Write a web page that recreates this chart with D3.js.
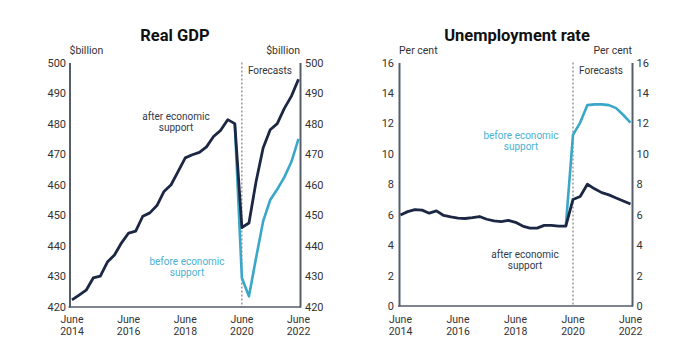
<!DOCTYPE html>
<html><head><meta charset="utf-8">
<script src="https://cdn.jsdelivr.net/npm/d3@7"></script>
<style>
body{margin:0;background:#fff}
text{font-family:Roboto,"Liberation Sans",Arial,sans-serif}
</style>
</head><body>
<svg id="c" width="692" height="356"></svg>
<script>
// ---- data ----
const quarters = [
  "Jun-2014","Sep-2014","Dec-2014","Mar-2015","Jun-2015","Sep-2015","Dec-2015","Mar-2016",
  "Jun-2016","Sep-2016","Dec-2016","Mar-2017","Jun-2017","Sep-2017","Dec-2017","Mar-2018",
  "Jun-2018","Sep-2018","Dec-2018","Mar-2019","Jun-2019","Sep-2019","Dec-2019","Mar-2020",
  "Jun-2020","Sep-2020","Dec-2020","Mar-2021","Jun-2021","Sep-2021","Dec-2021","Mar-2022","Jun-2022"
];
const xTickQuarters = ["Jun-2014","Jun-2016","Jun-2018","Jun-2020","Jun-2022"];
const xTickLabels = [["June","2014"],["June","2016"],["June","2018"],["June","2020"],["June","2022"]];
const forecastStart = "Jun-2020";

const gdpAfter = [422.3,423.9,425.5,429.5,430.1,434.7,437.0,441.0,444.2,444.8,449.7,450.8,453.2,457.8,460.0,464.4,
  468.8,469.8,470.6,472.4,475.8,477.8,481.3,480.0,446.0,447.5,461.0,472.0,478.0,480.0,485.0,489.0,494.5];
const gdpBefore = [null,null,null,null,null,null,null,null,null,null,null,null,null,null,null,null,
  null,null,null,null,null,null,null,480.0,429.5,423.5,436.0,448.0,455.0,458.5,462.5,467.5,475.0];
const gdpTicks = [420,430,440,450,460,470,480,490,500];

const unempAfter = [5.98,6.2,6.33,6.3,6.1,6.25,5.95,5.85,5.78,5.75,5.8,5.88,5.7,5.6,5.55,5.62,
  5.5,5.25,5.12,5.12,5.3,5.3,5.25,5.25,7.0,7.2,8.0,7.7,7.45,7.3,7.1,6.9,6.7];
const unempBefore = [null,null,null,null,null,null,null,null,null,null,null,null,null,null,null,null,
  null,null,null,null,null,null,null,5.25,11.25,12.05,13.2,13.25,13.25,13.2,13.0,12.55,12.05];
const unempTicks = [0,2,4,6,8,10,12,14,16];

// ---- style ----
const DARK = "#1b2743", LIGHT = "#3aa7c9", AXIS = "#555d6b", TXT = "#333";
const svg = d3.select("#c");

function panel(cfg) {
  const g = svg.append("g");
  const x = d3.scalePoint(quarters, cfg.xRange).padding(0);
  const y = d3.scaleLinear(cfg.yDomain, cfg.yRange);

  // title
  g.append("text").attr("x", cfg.titleX).attr("y", 41).attr("text-anchor","middle")
    .attr("font-size", 16.5).attr("font-weight", 700).attr("fill", "#111").text(cfg.title);
  // units
  g.append("text").attr("x", cfg.axL).attr("y", 54).attr("font-size", 10.5).attr("fill", TXT).text(cfg.unit);
  g.append("text").attr("x", cfg.axR).attr("y", 54).attr("text-anchor","end").attr("font-size", 10.5).attr("fill", TXT).text(cfg.unit);

  // y axes
  const left = d3.axisLeft(y).tickValues(cfg.ticks).tickSize(0).tickPadding(cfg.padL).tickSizeOuter(0);
  const right = d3.axisRight(y).tickValues(cfg.ticks).tickSize(0).tickPadding(cfg.padR).tickSizeOuter(0);
  [[left, cfg.axL], [right, cfg.axR]].forEach(([ax, px]) => {
    const a = g.append("g").attr("transform", `translate(${px},0)`).call(ax);
    a.select(".domain").attr("stroke", AXIS).attr("stroke-width", 2);
    a.selectAll("text").attr("font-size", 11).attr("fill", TXT).style("font-family", 'Roboto,"Liberation Sans",Arial,sans-serif');
  });

  // bottom axis line
  g.append("line").attr("x1", cfg.axL - 1).attr("x2", cfg.axR + 1)
    .attr("y1", cfg.yRange[0]).attr("y2", cfg.yRange[0]).attr("stroke", AXIS).attr("stroke-width", 1.5);

  // x tick labels
  xTickQuarters.forEach((q, i) => {
    g.append("text").attr("text-anchor","middle").attr("font-size", 10.5).attr("fill", TXT)
      .attr("x", x(q)).attr("y", 322.5).text(xTickLabels[i][0]);
    g.append("text").attr("text-anchor","middle").attr("font-size", 10.5).attr("fill", TXT)
      .attr("x", x(q)).attr("y", 334.5).text(xTickLabels[i][1]);
  });

  // forecast divider
  g.append("line").attr("x1", x(forecastStart)).attr("x2", x(forecastStart))
    .attr("y1", cfg.yRange[1]).attr("y2", cfg.yRange[0])
    .attr("stroke", "#666").attr("stroke-width", 1).attr("stroke-dasharray", "2,2");
  g.append("text").attr("x", x(forecastStart) + 6).attr("y", 74).attr("font-size", 10).attr("fill", TXT).text("Forecasts");

  // lines
  const line = d3.line().defined(d => d[1] != null).x(d => x(d[0])).y(d => y(d[1]));
  const zip = arr => quarters.map((q, i) => [q, arr[i]]);
  g.append("path").attr("d", line(zip(cfg.before))).attr("fill","none").attr("stroke", LIGHT)
    .attr("stroke-width", 2.6).attr("stroke-linejoin","round");
  g.append("path").attr("d", line(zip(cfg.after))).attr("fill","none").attr("stroke", DARK)
    .attr("stroke-width", 2.8).attr("stroke-linejoin","round");

  // annotations
  cfg.notes.forEach(n => {
    g.append("text").attr("text-anchor","middle").attr("font-size", 10).attr("fill", n.color)
      .attr("x", n.x).attr("y", n.y).text(n.word + " economic");
    g.append("text").attr("text-anchor","middle").attr("font-size", 10).attr("fill", n.color)
      .attr("x", n.x).attr("y", n.y + 11).text("support");
  });
}

panel({
  title: "Real GDP", titleX: 175, unit: "$billion",
  xRange: [72, 298.5], axL: 69.5, axR: 300, padL: 3.5, padR: 5,
  yDomain: [420, 500], yRange: [307, 62.5], ticks: gdpTicks,
  after: gdpAfter, before: gdpBefore,
  notes: [
    {word: "after", x: 176, y: 120, color: "#2e3a4e"},
    {word: "before", x: 187, y: 265, color: "#4ab2d3"}
  ]
});
panel({
  title: "Unemployment rate", titleX: 517, unit: "Per cent",
  xRange: [400.5, 630.5], axL: 399, axR: 632, padL: 5, padR: 4.5,
  yDomain: [0, 16], yRange: [306, 62.5], ticks: unempTicks,
  after: unempAfter, before: unempBefore,
  notes: [
    {word: "before", x: 521, y: 139, color: "#4ab2d3"},
    {word: "after", x: 525, y: 258, color: "#2e3a4e"}
  ]
});
</script>
</body></html>
